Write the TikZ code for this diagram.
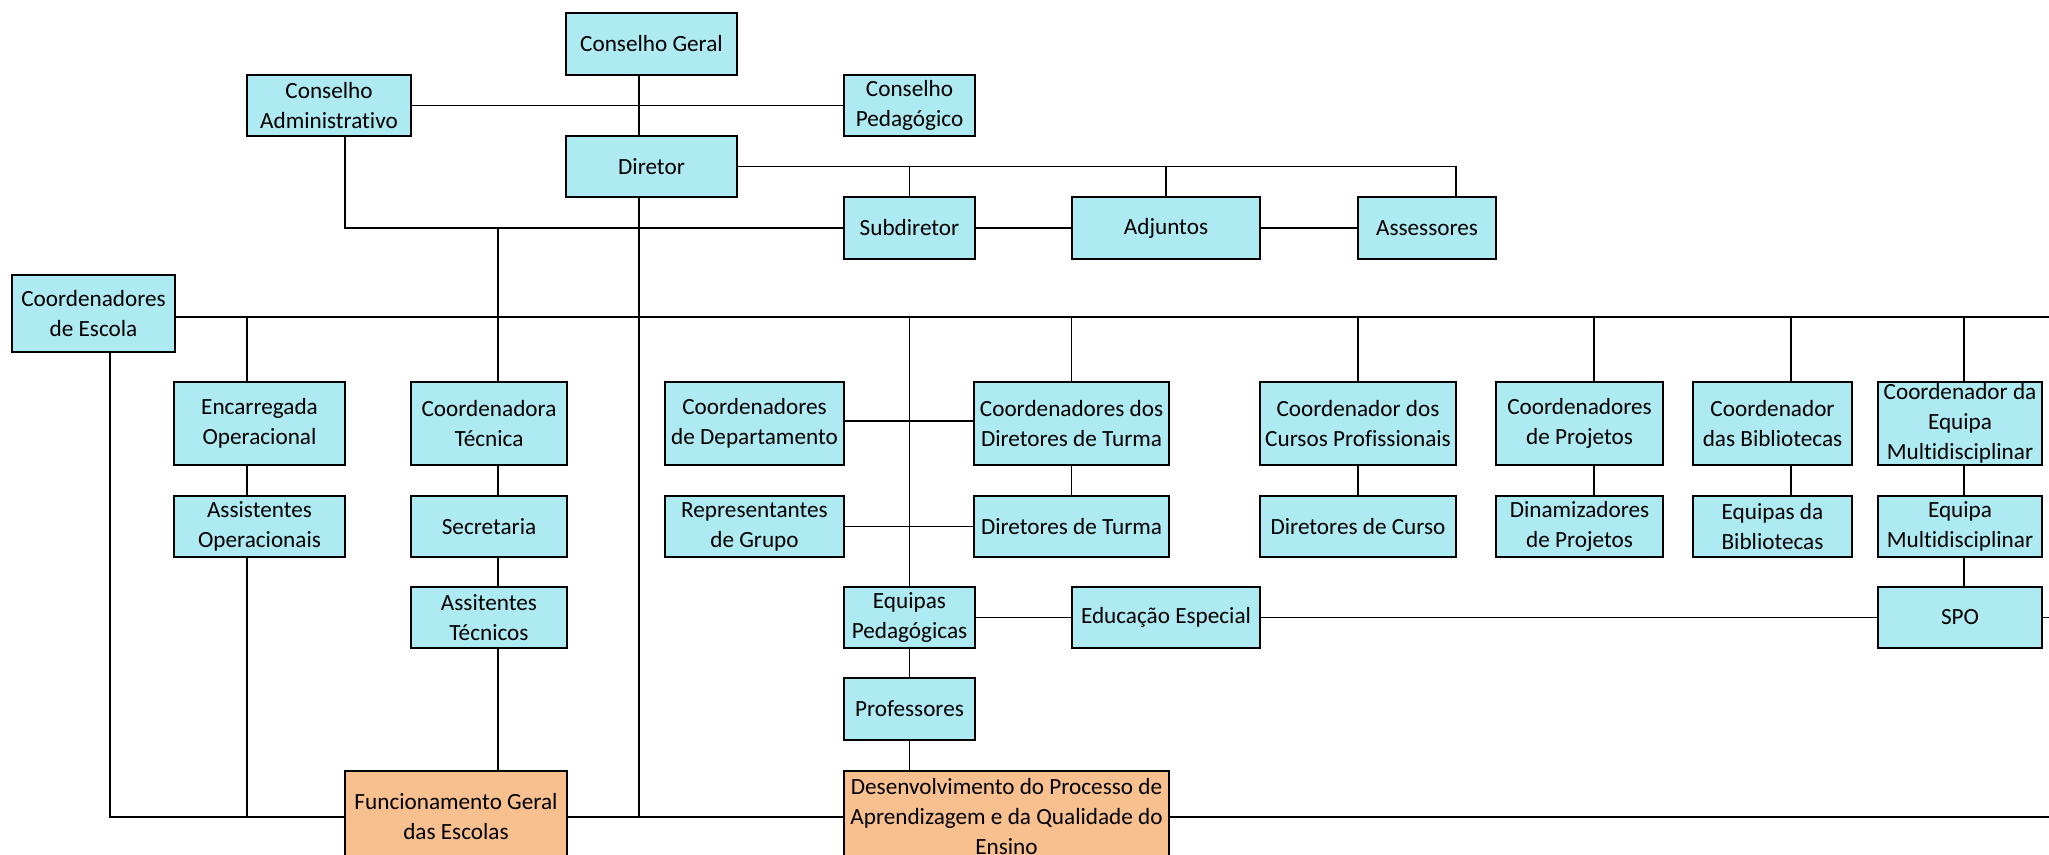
\documentclass[tikz,border=0pt]{standalone}
\usepackage{fontspec}
\setmainfont{Carlito}[Ligatures=NoCommon]
\usetikzlibrary{backgrounds}
\definecolor{cy}{HTML}{ADEAF2}
\definecolor{og}{HTML}{F8BF8F}
\tikzset{
 box/.style={draw=black, line width=1pt, fill=cy, inner sep=0pt, outer sep=0pt, align=center, font=\fontsize{11.6}{15}\selectfont},
 obox/.style={box, fill=og},
 conn/.style={line width=0.8pt, draw=black},
}
\newcommand\mkbox[7]{\node[#1, minimum width={(#5-#3)*0.5pt}, minimum height={(#6-#4)*0.5pt}] (#2) at ({(#3+#5)/2},{(#4+#6)/2}) {#7};}
\begin{document}
\begin{tikzpicture}[x=0.5pt,y=-0.5pt]
\useasboundingbox (0,0) rectangle (2049,855);
\clip (0,0) rectangle (2049,855);
% helper coordinates
\coordinate (v110) at (110,0);
\coordinate (v247) at (247,0);
\coordinate (v345) at (345,0);
\coordinate (v498) at (498,0);
\coordinate (v639) at (639,0);
\coordinate (v1456) at (1456,0);
\coordinate (v1594) at (1594,0);
\coordinate (v1791) at (1791,0);
\coordinate (v1964) at (1964,0);
\coordinate (h317) at (0,317);
\coordinate (h421) at (0,421);
\coordinate (redge) at (2049,0);
% boxes
\mkbox{box}{cg}{566}{13}{737}{75}{Conselho Geral}
\mkbox{box}{ca}{247}{75}{411}{136}{Conselho\\Administrativo}
\mkbox{box}{cp}{844}{75}{975}{136}{Conselho\\Pedagógico}
\mkbox{box}{dir}{566}{136}{737}{197}{Diretor}
\mkbox{box}{sub}{844}{197}{975}{259}{Subdiretor}
\mkbox{box}{adj}{1072}{197}{1260}{259}{Adjuntos}
\mkbox{box}{ass}{1358}{197}{1496}{259}{Assessores}
\mkbox{box}{ce}{12}{275}{175}{352}{Coordenadores\\de Escola}
\mkbox{box}{enc}{174}{382}{345}{465}{Encarregada\\Operacional}
\mkbox{box}{ct}{411}{382}{567}{465}{Coordenadora\\Técnica}
\mkbox{box}{cd}{665}{382}{844}{465}{Coordenadores\\de Departamento}
\mkbox{box}{cdt}{974}{382}{1169}{465}{Coordenadores dos\\Diretores de Turma}
\mkbox{box}{ccp}{1260}{382}{1456}{465}{Coordenador dos\\Cursos Profissionais}
\mkbox{box}{cpj}{1496}{382}{1663}{465}{Coordenadores\\de Projetos}
\mkbox{box}{cb}{1693}{382}{1852}{465}{Coordenador\\das Bibliotecas}
\mkbox{box}{cem}{1878}{382}{2042}{465}{Coordenador da\\Equipa\\Multidisciplinar}
\mkbox{box}{ao}{174}{496}{345}{557}{Assistentes\\Operacionais}
\mkbox{box}{sec}{411}{496}{567}{557}{Secretaria}
\mkbox{box}{rg}{665}{496}{844}{557}{Representantes\\de Grupo}
\mkbox{box}{dt}{974}{496}{1169}{557}{Diretores de Turma}
\mkbox{box}{dc}{1260}{496}{1456}{557}{Diretores de Curso}
\mkbox{box}{dp}{1496}{496}{1663}{557}{Dinamizadores\\de Projetos}
\mkbox{box}{eb}{1693}{496}{1852}{557}{Equipas da\\Bibliotecas}
\mkbox{box}{em}{1878}{496}{2042}{557}{Equipa\\Multidisciplinar}
\mkbox{box}{at}{411}{587}{567}{648}{Assitentes\\Técnicos}
\mkbox{box}{ep}{844}{587}{975}{648}{Equipas\\Pedagógicas}
\mkbox{box}{ee}{1072}{587}{1260}{648}{Educação Especial}
\mkbox{box}{spo}{1878}{587}{2042}{648}{SPO}
\mkbox{box}{prof}{844}{678}{975}{740}{Professores}
\mkbox{obox}{fun}{345}{771}{567}{863}{Funcionamento Geral\\das Escolas}
\mkbox{obox}{des}{844}{771}{1169}{863}{Desenvolvimento do Processo de\\Aprendizagem e da Qualidade do\\Ensino}
% connectors
\begin{scope}[on background layer]
\draw[conn] (cg.south -| v639) -- (dir.north -| v639);
\draw[conn] (ca.east) -- (cp.west);
\draw[conn] (dir.east) -- (dir.east -| v1456) -- (ass.north -| v1456);
\draw[conn] (sub.north) -- (sub.north |- dir.east);
\draw[conn] (adj.north) -- (adj.north |- dir.east);
\draw[conn] (sub.east) -- (adj.west);
\draw[conn] (adj.east) -- (ass.west);
\draw[conn] (ca.south -| v345) |- (sub.west);
\draw[conn] (ct.north -| v498) -- (v498 |- sub.west);
\draw[conn] (dir.south -| v639) -- (v639 |- fun.east);
\draw[conn] (ce.east |- h317) -- (redge |- h317);
\draw[conn] (ce.south -| v110) |- (fun.west);
\draw[conn] (enc.north -| v247) -- (v247 |- h317);
\draw[conn] (enc.south -| v247) -- (ao.north -| v247);
\draw[conn] (ao.south -| v247) -- (v247 |- fun.west);
\draw[conn] (ct.south -| v498) -- (sec.north -| v498);
\draw[conn] (sec.south -| v498) -- (at.north -| v498);
\draw[conn] (at.south -| v498) -- (fun.north -| v498);
\draw[conn] (cd.east |- h421) -- (cdt.west |- h421);
\draw[conn] (rg.east) -- (dt.west);
\draw[conn] (ep.north) -- (ep.north |- h317);
\draw[conn] (cdt.north) -- (cdt.north |- h317);
\draw[conn] (cdt.south) -- (dt.north);
\draw[conn] (ccp.north) -- (ccp.north |- h317);
\draw[conn] (ccp.south) -- (dc.north);
\draw[conn] (cpj.north -| v1594) -- (v1594 |- h317);
\draw[conn] (cpj.south -| v1594) -- (dp.north -| v1594);
\draw[conn] (cb.north -| v1791) -- (v1791 |- h317);
\draw[conn] (cb.south -| v1791) -- (eb.north -| v1791);
\draw[conn] (cem.north -| v1964) -- (v1964 |- h317);
\draw[conn] (cem.south -| v1964) -- (em.north -| v1964);
\draw[conn] (em.south -| v1964) -- (spo.north -| v1964);
\draw[conn] (ep.east) -- (ee.west);
\draw[conn] (ee.east) -- (spo.west);
\draw[conn] (spo.east) -- (redge |- spo.east);
\draw[conn] (ep.south) -- (prof.north);
\draw[conn] (prof.south) -- (des.north -| prof.south);
\draw[conn] (fun.east) -- (des.west);
\draw[conn] (des.east) -- (redge |- des.east);
\end{scope}
\end{tikzpicture}
\end{document}
